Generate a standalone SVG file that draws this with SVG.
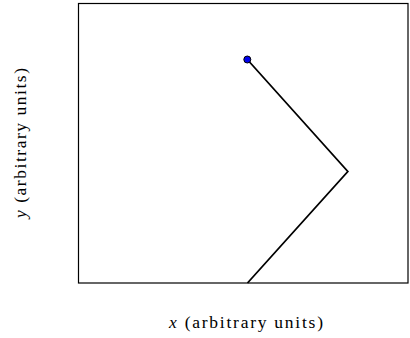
<svg xmlns="http://www.w3.org/2000/svg" width="410" height="338" viewBox="0 0 410 338">
<style>
.lbl{font-family:"Liberation Serif","DejaVu Serif",serif;font-size:17.5px;fill:#000}
.it{font-style:italic}
</style>
<rect width="410" height="338" fill="#fff"/>
<g id="frame">
<rect x="78.5" y="3.5" width="329.5" height="279.5" fill="none" stroke="#000" stroke-width="1.2"/>
</g>
<g id="connectors">
<polyline points="247.3,59.5 347.8,171.5 247.5,283" fill="none" stroke="#000" stroke-width="1.8" stroke-linejoin="miter"/>
</g>
<g id="point">
<circle cx="247.3" cy="59.5" r="3.5" fill="#0000ee" stroke="#000" stroke-width="1"/>
</g>
<g id="xlabel">
<text class="lbl" x="169" y="328" textLength="154" lengthAdjust="spacing"><tspan class="it">x</tspan> (arbitrary units)</text>
</g>
<g id="ylabel">
<text class="lbl" transform="translate(26,218) rotate(-90)" textLength="150" lengthAdjust="spacing"><tspan class="it">y</tspan> (arbitrary units)</text>
</g>
</svg>
